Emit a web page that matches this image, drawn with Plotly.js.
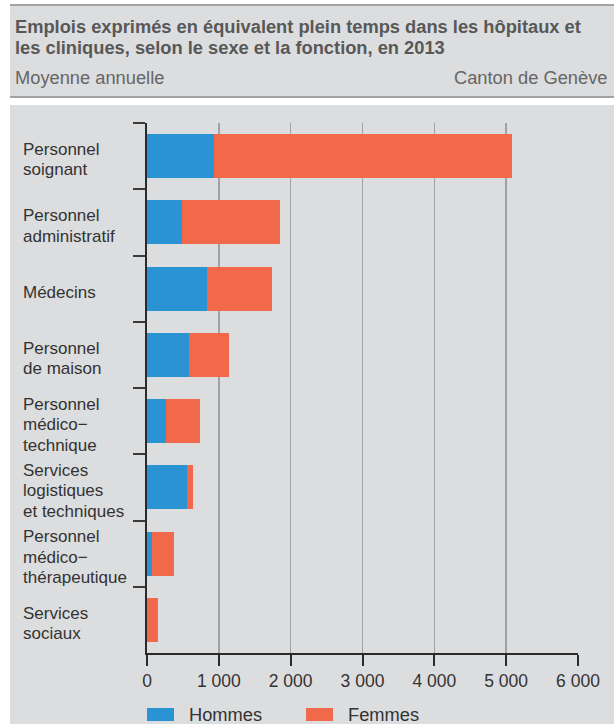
<!DOCTYPE html>
<html>
<head>
<meta charset="utf-8">
<script src="https://cdn.plot.ly/plotly-3.0.1.min.js"></script>
<style>html,body{margin:0;padding:0;background:#fff;}#chart{width:614px;height:724px;}</style>
</head>
<body>
<div id="chart"></div>
<script>
// Data
const categories = [
  "Personnel<br>soignant",
  "Personnel<br>administratif",
  "Médecins",
  "Personnel<br>de maison",
  "Personnel<br>médico−<br>technique",
  "Services<br>logistiques<br>et techniques",
  "Personnel<br>médico−<br>thérapeutique",
  "Services<br>sociaux"
];
const seriesNames = ["Hommes", "Femmes"];
const hommes = [932, 487, 839, 589, 264, 561, 70, 4];
const femmes = [4152, 1368, 905, 557, 478, 83, 310, 152];
const tickValues = [0, 1000, 2000, 3000, 4000, 5000, 6000];
const tickLabels = ["0", "1 000", "2 000", "3 000", "4 000", "5 000", "6 000"];
const titleLines = [
  "Emplois exprimés en équivalent plein temps dans les hôpitaux et",
  "les cliniques, selon le sexe et la fonction, en 2013"
];
const subtitleLeft = "Moyenne annuelle";
const subtitleRight = "Canton de Genève";

const colors = ["#2b93d4", "#f2684a"];
const W = 614, H = 724;
const M = {l: 147, r: 36, t: 123, b: 71};
const PW = W - M.l - M.r, PH = H - M.t - M.b;
const px = x => (x - M.l) / PW;
const py = y => (H - M.b - y) / PH;
const FONT = "Liberation Sans, Arial, sans-serif";
const BG = "#dcdddf";

const traces = [hommes, femmes].map((vals, i) => ({
  type: "bar",
  orientation: "h",
  name: seriesNames[i],
  y: categories,
  x: vals,
  marker: {color: colors[i], line: {width: 0}},
  hoverinfo: "x+name",
  showlegend: false
}));

const shapes = [
  {type: "rect", xref: "paper", yref: "paper", x0: px(10), x1: px(614), y0: py(5), y1: py(97), fillcolor: BG, line: {width: 0}, layer: "below"},
  {type: "rect", xref: "paper", yref: "paper", x0: px(10), x1: px(614), y0: py(105), y1: py(724), fillcolor: BG, line: {width: 0}, layer: "below"},
  {type: "line", xref: "paper", yref: "paper", x0: px(10), x1: px(614), y0: py(5), y1: py(5), line: {color: "#a3a3a3", width: 2}},
  {type: "line", xref: "paper", yref: "paper", x0: px(10), x1: px(614), y0: py(97), y1: py(97), line: {color: "#a3a3a3", width: 2}}
];

const annotations = [];
const titleY = [26.5, 47.5];
titleLines.forEach((t, i) => {
  annotations.push({xref: "paper", yref: "paper", x: px(13), y: py(titleY[i]), xanchor: "left", yanchor: "middle",
    text: "<b>" + t + "</b>", showarrow: false, font: {family: FONT, size: 18.3, color: "#585858"}});
});
annotations.push({xref: "paper", yref: "paper", x: px(13), y: py(78), xanchor: "left", yanchor: "middle",
  text: subtitleLeft, showarrow: false, font: {family: FONT, size: 18.3, color: "#666"}});
annotations.push({xref: "paper", yref: "paper", x: px(609), y: py(78), xanchor: "right", yanchor: "middle",
  text: subtitleRight, showarrow: false, font: {family: FONT, size: 18.3, color: "#666"}});

const LINE = 20.5, OFF = 3.5;
categories.forEach(c => {
  const parts = c.split("<br>");
  parts.forEach((p, k) => {
    const dy = OFF + (k - (parts.length - 1) / 2) * LINE;
    annotations.push({xref: "paper", yref: "y", x: px(21), y: c, yshift: -dy, xanchor: "left", yanchor: "middle", align: "left",
      text: p, showarrow: false, font: {family: FONT, size: 17, color: "#333"}});
  });
});

// Legend
const legBoxX = [147, 306];
seriesNames.forEach((n, i) => {
  shapes.push({type: "rect", xref: "paper", yref: "paper", x0: px(legBoxX[i]), x1: px(legBoxX[i] + 27), y0: py(708), y1: py(721),
    fillcolor: colors[i], line: {width: 0}});
  annotations.push({xref: "paper", yref: "paper", x: px(legBoxX[i] + 40), y: py(714.5), xanchor: "left", yanchor: "middle",
    text: n, showarrow: false, font: {family: FONT, size: 18.3, color: "#333"}});
});

const layout = {
  width: W, height: H, autosize: false,
  margin: M,
  paper_bgcolor: "#ffffff",
  plot_bgcolor: BG,
  barmode: "stack",
  bargap: 0.336,
  showlegend: false,
  font: {family: FONT, color: "#333"},
  xaxis: {
    range: [0, 6000],
    tickvals: tickValues, ticktext: tickLabels,
    showgrid: true, gridcolor: "#a2a2a2", gridwidth: 1.5,
    zeroline: false,
    showline: true, linecolor: "#2a2a2a", linewidth: 2,
    ticks: "outside", ticklen: 11, tickwidth: 2, tickcolor: "#2a2a2a",
    tickfont: {family: FONT, size: 17.5, color: "#333"},
    fixedrange: true
  },
  yaxis: {
    type: "category",
    autorange: "reversed",
    showticklabels: false,
    showgrid: false, zeroline: false,
    showline: true, linecolor: "#2a2a2a", linewidth: 2,
    ticks: "outside", tickson: "boundaries", ticklen: 12, tickwidth: 2, tickcolor: "#3a3a3a",
    fixedrange: true
  },
  shapes: shapes,
  annotations: annotations
};

Plotly.newPlot("chart", traces, layout, {displayModeBar: false, staticPlot: true});
</script>
</body>
</html>
